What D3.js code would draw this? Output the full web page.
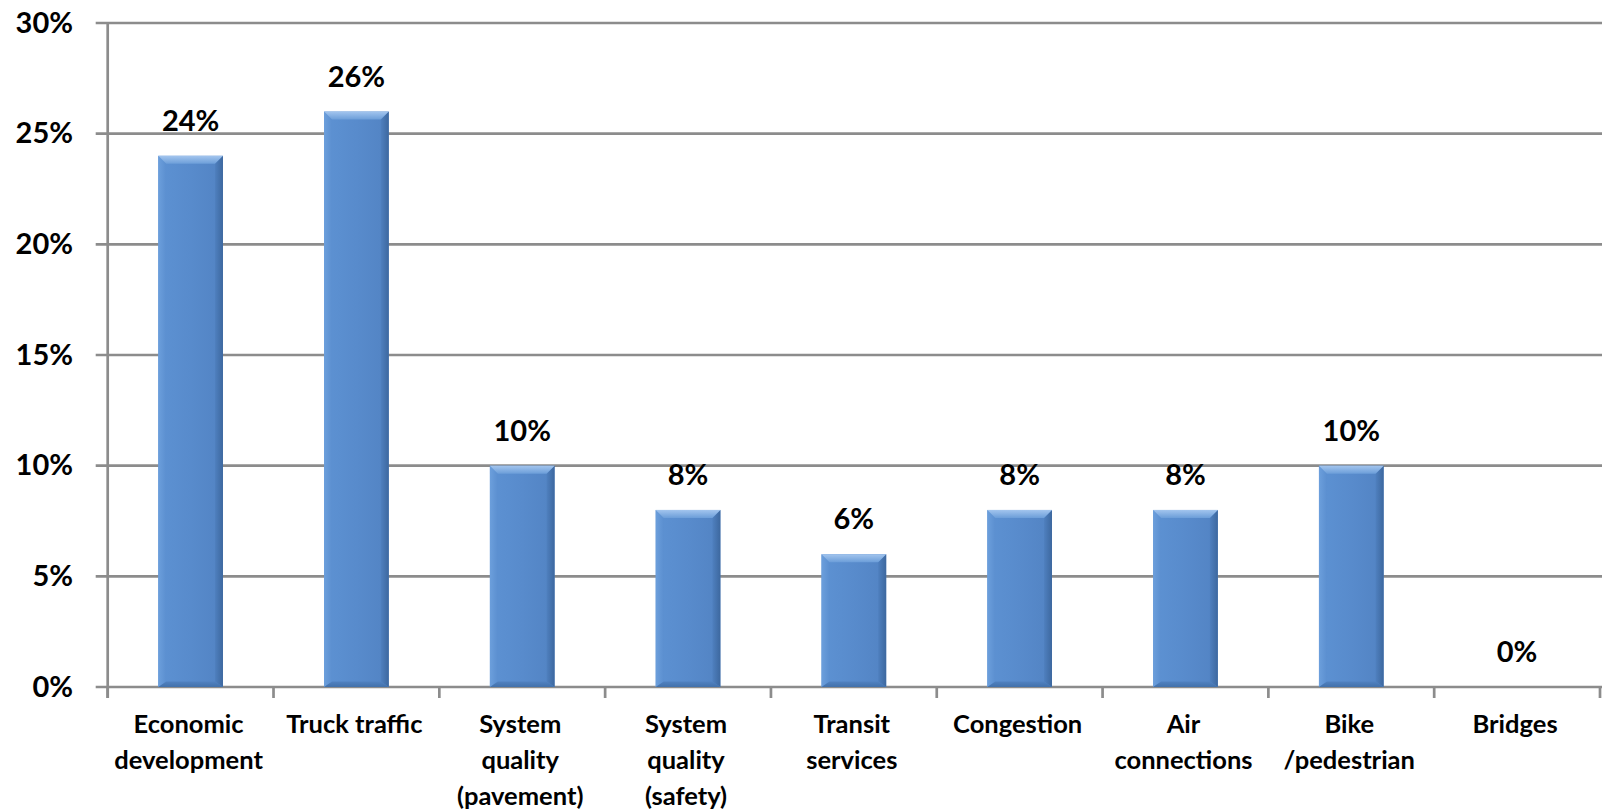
<!DOCTYPE html>
<html>
<head>
<meta charset="utf-8">
<script src="https://cdn.jsdelivr.net/npm/d3@7"></script>
<style>
  body { margin: 0; background: #fff; }
  svg { display: block; }
</style>
</head>
<body>
<div id="chart"></div>
<script>
// categories (\n = line break in axis label)
var categories = [
  "Economic\ndevelopment",
  "Truck traffic",
  "System\nquality\n(pavement)",
  "System\nquality\n(safety)",
  "Transit\nservices",
  "Congestion",
  "Air\nconnections",
  "Bike\n/pedestrian",
  "Bridges"
];
var shares = [0.24, 0.26, 0.10, 0.08, 0.06, 0.08, 0.08, 0.10, 0.00];
var yTicks = [0, 0.05, 0.10, 0.15, 0.20, 0.25, 0.30];

var width = 1602, height = 811;
var plotLeft = 107.7, plotRight = 1600, plotTop = 23, plotBottom = 687;

var svg = d3.select("#chart")
  .append("svg")
  .attr("width", width)
  .attr("height", height);

var defs = svg.append("defs");
function gradient(id, x2, y2, stops) {
  var g = defs.append("linearGradient").attr("id", id)
    .attr("x1", "0%").attr("y1", "0%").attr("x2", x2).attr("y2", y2);
  stops.forEach(function(s) {
    g.append("stop").attr("offset", s[0]).attr("stop-color", s[1]);
  });
}
gradient("barFill", "100%", "0%", [["0%", "#5d92d3"], ["50%", "#588bcc"], ["100%", "#5283c3"]]);
gradient("bevTop", "0%", "100%", [["0%", "#a3c5ee"], ["100%", "#6c9ed9"]]);
gradient("bevRight", "100%", "0%", [["0%", "#4f80bf"], ["100%", "#3d689f"]]);
gradient("bevLeft", "100%", "0%", [["0%", "#6c9fdc"], ["100%", "#5b8fd0"]]);
gradient("bevBottom", "0%", "100%", [["0%", "#5182c1"], ["100%", "#4271ab"]]);

var x = d3.scaleBand().domain(categories).range([plotLeft, plotRight]).padding(0);
var y = d3.scaleLinear().domain([0, 0.30]).range([plotBottom, plotTop]);

var gridColor = "#8c8c8c";

// horizontal gridlines (with tick stubs left of the axis)
svg.append("g")
  .selectAll("line").data(yTicks)
  .enter().append("line")
  .attr("x1", plotLeft - 12)
  .attr("x2", width)
  .attr("y1", function(d) { return y(d); })
  .attr("y2", function(d) { return y(d); })
  .style("stroke", gridColor)
  .style("stroke-width", 2.7);

// y tick labels
svg.append("g")
  .selectAll("text").data(yTicks)
  .enter().append("text")
  .attr("x", 73)
  .attr("y", function(d) { return y(d) + 9.5; })
  .attr("text-anchor", "end")
  .style("font-family", "Lato, 'DejaVu Sans', sans-serif")
  .style("font-weight", "bold")
  .style("font-size", "29px")
  .style("fill", "#000")
  .text(function(d) { return d3.format(".0%")(d); });

// vertical axis line
svg.append("line")
  .attr("x1", plotLeft).attr("x2", plotLeft)
  .attr("y1", y(0.30)).attr("y2", plotBottom + 11)
  .style("stroke", gridColor)
  .style("stroke-width", 2.7);

// category ticks
var bounds = categories.map(function(c) { return x(c); }).concat([plotRight]);
svg.append("g")
  .selectAll("line").data(bounds)
  .enter().append("line")
  .attr("x1", function(d) { return d; })
  .attr("x2", function(d) { return d; })
  .attr("y1", plotBottom)
  .attr("y2", plotBottom + 11)
  .style("stroke", gridColor)
  .style("stroke-width", 2.7);

// bars with bevel
var barW = x.bandwidth() * 0.39;
var bev = 8;
var bars = svg.append("g")
  .selectAll("g").data(categories.map(function(c, i) { return { cat: c, v: shares[i] }; }))
  .enter().append("g")
  .filter(function(d) { return y(0) - y(d.v) > 1; });

function bx(d) { return x(d.cat) + (x.bandwidth() - barW) / 2; }

bars.append("rect")
  .attr("x", bx)
  .attr("y", function(d) { return y(d.v); })
  .attr("width", barW)
  .attr("height", function(d) { return y(0) - y(d.v); })
  .style("fill", "url(#barFill)");

function poly(fn, fill) {
  bars.append("polygon")
    .attr("points", function(d) {
      var x0 = bx(d), x1 = x0 + barW, y0 = y(d.v), y1 = y(0);
      var b = Math.min(bev, (y1 - y0) / 2);
      return fn(x0, x1, y0, y1, b).map(function(p) { return p.join(","); }).join(" ");
    })
    .style("fill", fill);
}
poly(function(x0, x1, y0, y1, b) { return [[x0, y0], [x0 + b, y0 + b], [x0 + b, y1 - b * 0.7], [x0, y1]]; }, "url(#bevLeft)");
poly(function(x0, x1, y0, y1, b) { return [[x1, y0], [x1, y1], [x1 - b, y1 - b * 0.7], [x1 - b, y0 + b]]; }, "url(#bevRight)");
poly(function(x0, x1, y0, y1, b) { return [[x0, y1], [x0 + b, y1 - b * 0.7], [x1 - b, y1 - b * 0.7], [x1, y1]]; }, "url(#bevBottom)");
poly(function(x0, x1, y0, y1, b) { return [[x0, y0], [x1, y0], [x1 - b, y0 + b], [x0 + b, y0 + b]]; }, "url(#bevTop)");

// data labels
svg.append("g")
  .selectAll("text").data(shares)
  .enter().append("text")
  .attr("x", function(d, i) { return x(categories[i]) + x.bandwidth() / 2; })
  .attr("y", function(d) { return y(d) - 25; })
  .attr("text-anchor", "middle")
  .style("font-family", "Lato, 'DejaVu Sans', sans-serif")
  .style("font-weight", "bold")
  .style("font-size", "29px")
  .style("fill", "#000")
  .text(function(d) { return d3.format(".0%")(d); });

// category labels
var catLabels = svg.append("g")
  .selectAll("text").data(categories)
  .enter().append("text")
  .attr("text-anchor", "middle")
  .style("font-family", "Lato, 'DejaVu Sans', sans-serif")
  .style("font-weight", "bold")
  .style("font-size", "25.5px")
  .style("fill", "#000");

catLabels.selectAll("tspan")
  .data(function(d) { return d.split("\n").map(function(t) { return { t: t, c: d }; }); })
  .enter().append("tspan")
  .attr("x", function(d) { return x(d.c) + x.bandwidth() / 2 - 2; })
  .attr("y", function(d, i) { return 733 + i * 36; })
  .text(function(d) { return d.t; });
</script>
</body>
</html>
